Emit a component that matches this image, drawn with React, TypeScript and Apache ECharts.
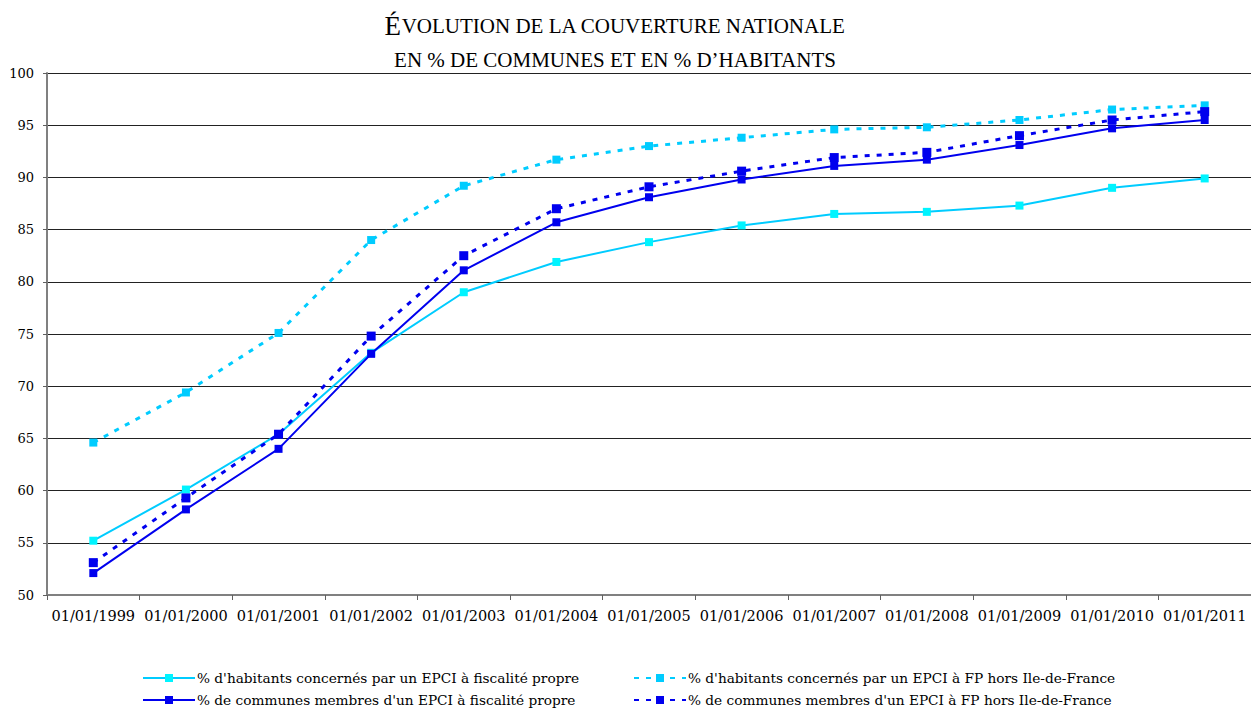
import React, { useEffect, useRef } from "react";
import * as echarts from "echarts";

const categories = [
  "01/01/1999", "01/01/2000", "01/01/2001", "01/01/2002", "01/01/2003",
  "01/01/2004", "01/01/2005", "01/01/2006", "01/01/2007", "01/01/2008",
  "01/01/2009", "01/01/2010", "01/01/2011",
];
const habitantsFP = [55.2, 60.1, 65.4, 73.2, 79.0, 81.9, 83.8, 85.4, 86.5, 86.7, 87.3, 89.0, 89.9];
const habitantsFPHorsIDF = [64.6, 69.4, 75.1, 84.0, 89.2, 91.7, 93.0, 93.8, 94.6, 94.8, 95.5, 96.5, 96.9];
const communesFP = [52.1, 58.2, 64.0, 73.1, 81.1, 85.7, 88.1, 89.8, 91.1, 91.7, 93.1, 94.7, 95.5];
const communesFPHorsIDF = [53.1, 59.3, 65.4, 74.8, 82.5, 87.0, 89.1, 90.6, 91.9, 92.4, 94.0, 95.5, 96.3];

const seriesNames = [
  "% d'habitants concernés par un EPCI à fiscalité propre",
  "% d'habitants concernés par un EPCI à FP hors Ile-de-France",
  "% de communes membres d'un EPCI à fiscalité propre",
  "% de communes membres d'un EPCI à FP hors Ile-de-France",
];

const CYAN = "#00CCFF";
const CYAN_LIGHT = "#00F4FF";
const BLUE = "#0000EE";
const SERIF = "DejaVu Serif";
const TITLE_FONT = "Liberation Serif";

export default function App() {
  const ref = useRef<HTMLDivElement>(null);
  useEffect(() => {
    if (!ref.current) return;
    const chart = echarts.init(ref.current, null, { renderer: "svg" });
    const legendBase = {
      itemWidth: 52,
      itemHeight: 10,
      itemGap: 0,
      textStyle: { fontFamily: SERIF, fontSize: 13.7, color: "#000", padding: [0, 0, 0, -3] },
      padding: 0,
    };
    chart.setOption({
      animation: false,
      backgroundColor: "#fff",
      textStyle: { fontFamily: SERIF },
      graphic: [
        {
          type: "text",
          x: 615,
          y: 26,
          style: {
            text: "{big|É}{sm|VOLUTION DE LA COUVERTURE NATIONALE}",
            align: "center",
            verticalAlign: "middle",
            fontFamily: TITLE_FONT,
            rich: {
              big: { fontFamily: TITLE_FONT, fontSize: 27, fill: "#000" },
              sm: { fontFamily: TITLE_FONT, fontSize: 21, fill: "#000" },
            },
          },
        },
        {
          type: "text",
          x: 615,
          y: 60,
          style: {
            text: "EN % DE COMMUNES ET EN % D’HABITANTS",
            align: "center",
            verticalAlign: "middle",
            fontFamily: TITLE_FONT,
            fontSize: 21,
            fill: "#000",
          },
        },
      ],
      legend: [
        { ...legendBase, left: 142, top: 671, data: [seriesNames[0]] },
        { ...legendBase, left: 633, top: 671, data: [seriesNames[1]] },
        { ...legendBase, left: 142, top: 693, data: [seriesNames[2]] },
        { ...legendBase, left: 633, top: 693, data: [seriesNames[3]] },
      ],
      grid: { left: 47, top: 73, width: 1209, bottom: 114, containLabel: false },
      xAxis: {
        type: "category",
        data: categories,
        boundaryGap: true,
        axisLine: { show: true, lineStyle: { color: "#808080", width: 2 } },
        axisTick: { show: true, length: 5, interval: 0, lineStyle: { color: "#606060" } },
        axisLabel: { interval: 0, fontFamily: SERIF, fontSize: 14.5, color: "#000", margin: 13 },
        splitLine: { show: false },
      },
      yAxis: {
        type: "value",
        min: 50,
        max: 100,
        interval: 5,
        axisLine: { show: true, lineStyle: { color: "#808080", width: 2 } },
        axisTick: { show: true, length: 4, lineStyle: { color: "#606060" } },
        axisLabel: { fontFamily: SERIF, fontSize: 13, color: "#000", margin: 13 },
        splitLine: { show: true, lineStyle: { color: "#222", width: 1 } },
      },
      series: [
        {
          name: seriesNames[0],
          type: "line",
          data: habitantsFP,
          symbol: "rect",
          symbolSize: 8,
          lineStyle: { color: CYAN, width: 2 },
          itemStyle: { color: CYAN_LIGHT },
          z: 2,
        },
        {
          name: seriesNames[1],
          type: "line",
          data: habitantsFPHorsIDF,
          symbol: "rect",
          symbolSize: 8,
          lineStyle: { color: CYAN, width: 3, type: [5, 7] },
          itemStyle: { color: CYAN },
          z: 2,
        },
        {
          name: seriesNames[2],
          type: "line",
          data: communesFP,
          symbol: "rect",
          symbolSize: 8,
          lineStyle: { color: BLUE, width: 2 },
          itemStyle: { color: BLUE },
          z: 3,
        },
        {
          name: seriesNames[3],
          type: "line",
          data: communesFPHorsIDF,
          symbol: "rect",
          symbolSize: 9,
          lineStyle: { color: BLUE, width: 3, type: [5, 7] },
          itemStyle: { color: BLUE },
          z: 3,
        },
      ],
    });
    return () => chart.dispose();
  }, []);
  return (
    <div
      ref={ref}
      style={{ position: "fixed", left: 0, top: 0, width: 1251, height: 709, background: "#fff" }}
    />
  );
}
